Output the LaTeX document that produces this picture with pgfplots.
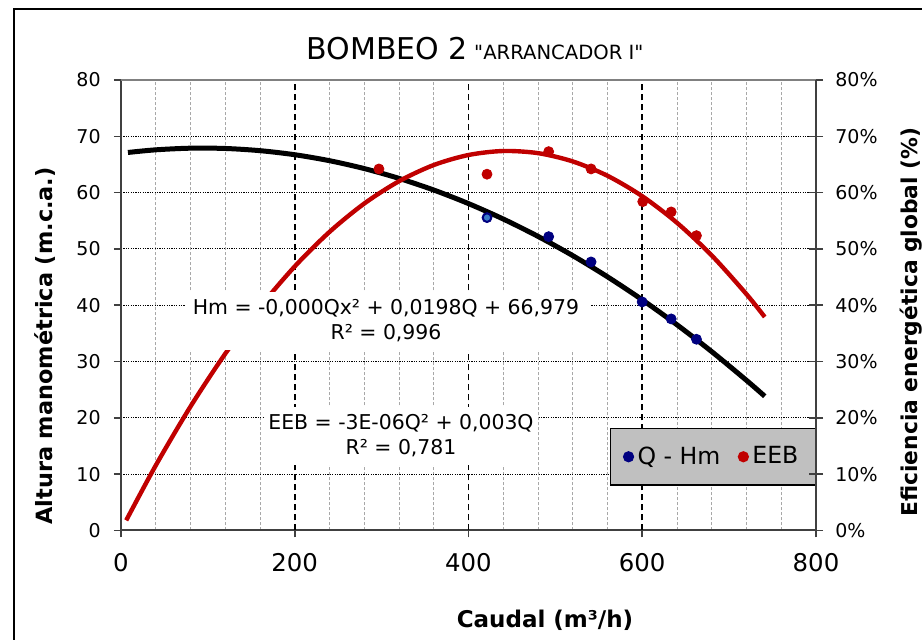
\documentclass[border=0pt]{standalone}
\usepackage{pgfplots}
\pgfplotsset{compat=1.18}
\usepackage{fontspec}
\setmainfont{DejaVu Sans}[Ligatures=TeXOff]
\definecolor{redc}{HTML}{C00000}
\definecolor{navyc}{HTML}{000080}
\definecolor{ltblue}{HTML}{3A7DC8}
\definecolor{axgray}{HTML}{404040}
\definecolor{topgray}{HTML}{808080}
\definecolor{legbg}{HTML}{C0C0C0}
\definecolor{gridgray}{HTML}{A8A8A8}

\pgfplotstableread{
Q Hm
421.3 55.56
492.3 52.18
541.1 47.69
599.9 40.59
633.3 37.57
662.4 33.96
}\hmdata

\pgfplotstableread{
Q EEB
296.9 64.2
421.3 63.27
492.3 67.28
541.1 64.21
600.6 58.40
633.3 56.57
662.4 52.36
}\eebdata

\begin{document}
\begin{tikzpicture}
\useasboundingbox (0,0) rectangle (461pt,320pt);
\draw[black, line width=0.6pt] (7pt,-20pt) -- (7pt,315.5pt) -- (480pt,315.5pt);

\begin{axis}[
  at={(60.5pt,54.75pt)}, anchor=south west,
  scale only axis, width=347.5pt, height=225.25pt,
  xmin=0, xmax=800, ymin=0, ymax=80,
  axis x line*=bottom, axis y line*=left,
  axis line style={axgray, line width=1pt},
  xtick={0,200,400,600,800}, xticklabels={0,200,400,600,800},
  ytick={0,10,20,30,40,50,60,70,80}, yticklabels={0,10,20,30,40,50,60,70,80},
  minor x tick num=4,
  xminorgrids,
  minor grid style={gridgray, dash pattern=on 1.5pt off 1pt, line width=0.45pt},
  ymajorgrids,
  major grid style={black, dash pattern=on 0.6pt off 0.6pt, line width=0.5pt},
  extra x ticks={200,400,600}, extra x tick labels={},
  extra x tick style={grid=major, major grid style={black, dash pattern=on 3pt off 2pt, line width=0.8pt}, major tick length=0pt},
  tick align=outside, major tick length=3.5pt, minor tick length=0pt,
  tick style={axgray, line width=0.8pt},
  xticklabel style={font=\fontsize{12.2}{14}\selectfont, inner sep=0pt, anchor=north, yshift=-8pt},
  yticklabel style={font=\fontsize{9.5}{11}\selectfont, inner sep=0pt, anchor=east, xshift=-6.5pt},
  legend style={at={(1,0.0996)}, anchor=south east, draw=black, line width=0.6pt, fill=legbg,
    font=\fontsize{11.8}{13}\selectfont, inner xsep=6.5pt, inner ysep=7pt,
    /tikz/every even column/.append style={column sep=7pt}},
  legend columns=2,
  legend image code/.code={\draw[#1] plot coordinates {(0.1cm,0cm)};},
]
\addplot[only marks, mark=*, mark size=2.5pt, navyc, mark options={fill=navyc, draw=navyc}] table[x=Q, y=Hm] {\hmdata};
\addlegendentry{Q - Hm}
\addplot[only marks, mark=*, mark size=2.5pt, redc, mark options={fill=redc, draw=redc}] table[x=Q, y=EEB] {\eebdata};
\addlegendentry{EEB}
\addplot[forget plot, only marks, mark=*, mark size=2pt, mark options={fill=ltblue, draw=navyc, line width=0.7pt}] coordinates {(421.3,55.56)};
\addplot[forget plot, black, line width=2.5pt, smooth] coordinates {
(8,67.13)(40,67.60)(80,67.89)(120,67.84)(160,67.45)(200,66.73)(240,65.67)(280,64.27)(320,62.53)(360,60.46)(400,58.05)(440,55.31)(480,52.23)(520,48.81)(560,45.05)(600,40.96)(640,36.53)(680,31.76)(720,26.66)(741,23.84)};
\addplot[forget plot, redc, line width=2.2pt, smooth] coordinates {
(6,1.80)(40,11.55)(80,22.01)(120,31.39)(160,39.68)(200,46.89)(240,53.02)(280,58.06)(320,62.02)(360,64.90)(400,66.68)(440,67.39)(480,67.01)(520,65.54)(560,62.99)(600,59.36)(640,54.64)(680,48.84)(720,41.96)(741,37.91)};
\end{axis}

\begin{axis}[
  at={(60.5pt,54.75pt)}, anchor=south west,
  scale only axis, width=347.5pt, height=225.25pt,
  xmin=0, xmax=800, ymin=0, ymax=80,
  axis y line*=right, axis x line*=top,
  y axis line style={axgray, line width=1pt},
  x axis line style={topgray, line width=0.9pt},
  xtick=\empty,
  ytick={0,10,20,30,40,50,60,70,80},
  yticklabels={0\%,10\%,20\%,30\%,40\%,50\%,60\%,70\%,80\%},
  tick align=center, major tick length=7pt,
  tick style={axgray, line width=0.8pt},
  yticklabel style={font=\fontsize{9.5}{11}\selectfont, inner sep=0pt, anchor=west, xshift=6pt},
]
\end{axis}

% trendline labels
\fill[white] (92.5pt,145pt) rectangle (295pt,174pt);
\node[align=center, inner sep=0pt, font=\fontsize{10.2}{12.5}\selectfont] at (193pt,159.5pt) {Hm = -0,000Qx² + 0,0198Q + 66,979\\R² = 0,996};
\fill[white] (132.5pt,87.5pt) rectangle (269pt,116.7pt);
\node[align=center, inner sep=0pt, font=\fontsize{10.2}{12.5}\selectfont] at (200.5pt,102.2pt) {EEB = -3E-06Q² + 0,003Q\\R² = 0,781};

% titles
\node[anchor=base, inner sep=0pt] at (237.5pt,290pt) {{\fontsize{15}{18}\selectfont BOMBEO 2} {\fontsize{9.8}{12}\selectfont "ARRANCADOR I"}};
\node[anchor=base, inner sep=0pt, font=\bfseries\fontsize{11.5}{14}\selectfont] at (272.5pt,6pt) {Caudal (m³/h)};
\node[anchor=base, rotate=90, inner sep=0pt, font=\bfseries\fontsize{11.2}{14}\selectfont] at (26.5pt,147pt) {Altura manométrica (m.c.a.)};
\node[anchor=base, rotate=90, inner sep=0pt, font=\bfseries\fontsize{10.9}{14}\selectfont] at (458.5pt,159pt) {Eficiencia energética global (\%)};
\end{tikzpicture}
\end{document}
